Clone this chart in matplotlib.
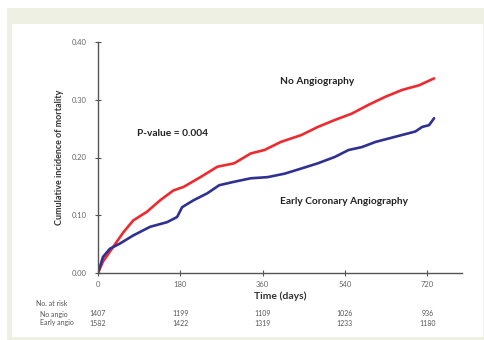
import matplotlib
matplotlib.use("Agg")
import matplotlib.pyplot as plt
from matplotlib.patches import Rectangle

# Kaplan-Meier style cumulative mortality curves
no_angio_days = [0, 11, 33, 55, 77, 107, 136, 165, 187, 224, 261, 298, 334, 364,
                 400, 445, 481, 518, 555, 591, 628, 665, 702, 735]
no_angio_mort = [0.0, 0.020, 0.045, 0.070, 0.091, 0.106, 0.126, 0.143, 0.149, 0.166,
                 0.184, 0.190, 0.207, 0.213, 0.227, 0.239, 0.253, 0.265, 0.276,
                 0.291, 0.305, 0.317, 0.325, 0.337]

early_days = [0, 11, 26, 48, 77, 114, 151, 173, 184, 209, 239, 265, 298, 334, 371,
              408, 445, 481, 518, 548, 577, 607, 636, 665, 694, 709, 724, 735]
early_mort = [0.0, 0.028, 0.042, 0.051, 0.065, 0.080, 0.088, 0.097, 0.114, 0.126,
              0.138, 0.152, 0.158, 0.164, 0.166, 0.172, 0.181, 0.190, 0.201, 0.213,
              0.218, 0.227, 0.233, 0.239, 0.245, 0.253, 0.256, 0.268]

x_ticks = [0, 180, 360, 540, 720]
y_ticks = [0.0, 0.10, 0.20, 0.30, 0.40]
risk_no_angio = [1407, 1199, 1109, 1026, 936]
risk_early = [1582, 1422, 1319, 1233, 1180]

W, H = 485, 340
fig = plt.figure(figsize=(W / 100, H / 100), dpi=100)
fig.patch.set_facecolor("white")

# framed panel background
fig.patches.append(Rectangle((7 / W, 0), 1, 1 - 8 / H, transform=fig.transFigure,
                             facecolor="#eef0e3", edgecolor="none", zorder=-10))
fig.patches.append(Rectangle((12 / W, 3 / H), (483 - 12) / W, (340 - 24 - 3) / H,
                             transform=fig.transFigure, facecolor="white",
                             edgecolor="none", zorder=-9))

def px(x0, y0, x1, y1):
    return [x0 / W, 1 - y1 / H, (x1 - x0) / W, (y1 - y0) / H]

ax = fig.add_axes(px(98, 42, 462, 273))
ax.set_zorder(5)
ax.set_facecolor("none")
ax.plot(no_angio_days, no_angio_mort, color="#ee2a2e", lw=1.9, solid_capstyle="round")
ax.plot(early_days, early_mort, color="#2e3192", lw=1.9, solid_capstyle="round")

ax.set_xlim(0, 796)
ax.set_ylim(0, 0.40)
ax.set_xticks(x_ticks)
ax.set_yticks(y_ticks)
ax.set_yticklabels([f"{v:.2f}" for v in y_ticks])
for s in ["top", "right"]:
    ax.spines[s].set_visible(False)
for s in ["left", "bottom"]:
    ax.spines[s].set_color("#555555")
    ax.spines[s].set_linewidth(1.0)
ax.tick_params(direction="inout", length=4, width=0.8, color="#555555",
               labelsize=5.5, labelcolor="#666666")
ax.tick_params(axis="y", pad=6)
ax.tick_params(axis="x", pad=4)
for lab in ax.get_xticklabels() + ax.get_yticklabels():
    lab.set_family("Lato")

ax.set_ylabel("Cumulative incidence of mortality", family="Lato", fontweight="bold",
              fontsize=6.5, color="#333333", labelpad=6)
ax.set_xlabel("Time (days)", family="Lato", fontweight="bold", fontsize=7.5,
              color="#333333", labelpad=2)

ax.text(398, 0.331, "No Angiography", family="Lato", fontweight="bold", fontsize=7.3,
        color="#222222", va="center")
ax.text(85, 0.241, "P-value = 0.004", family="Lato", fontweight="bold", fontsize=7.3,
        color="#222222", va="center")
ax.text(398, 0.123, "Early Coronary Angiography", family="Lato", fontweight="bold",
        fontsize=7.3, color="#222222", va="center")

# number at risk table
fs = 5
fig.text(36 / W, 1 - 304 / H, "No. at risk", family="Lato", fontsize=fs,
         color="#555555", va="center")
fig.text(40 / W, 1 - 314 / H, "No angio", family="Lato", fontsize=fs,
         color="#555555", va="center")
fig.text(40 / W, 1 - 323 / H, "Early angio", family="Lato", fontsize=fs,
         color="#555555", va="center")
for d, n1, n2 in zip(x_ticks, risk_no_angio, risk_early):
    xf = (98 + d / 796 * (462 - 98)) / W
    fig.text(xf, 1 - 314 / H, str(n1), family="Lato", fontsize=fs, color="#555555",
             ha="center", va="center")
    fig.text(xf, 1 - 323 / H, str(n2), family="Lato", fontsize=fs, color="#555555",
             ha="center", va="center")

fig.savefig("out.png", dpi=100)
